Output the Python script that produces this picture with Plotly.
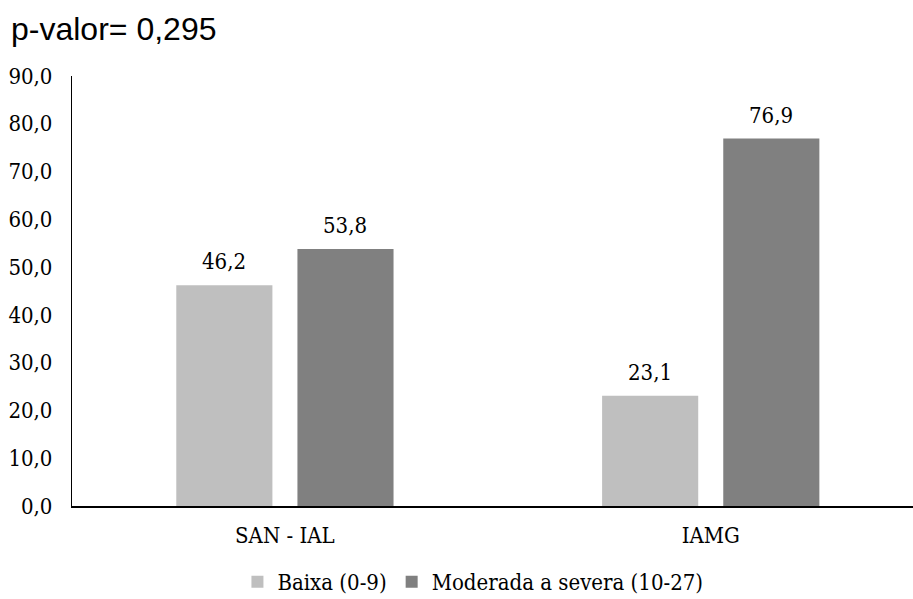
import plotly.graph_objects as go

# Data
categories = ["SAN - IAL", "IAMG"]
baixa = [46.2, 23.1]
moderada = [53.8, 76.9]
series_names = ["Baixa (0-9)", "Moderada a severa (10-27)"]
series_colors = ["#BFBFBF", "#808080"]
y_ticks = [0, 10, 20, 30, 40, 50, 60, 70, 80, 90]
title_text = "p-valor= 0,295"

SERIF = "DejaVu Serif Condensed, DejaVu Serif, serif"
SANS = "Liberation Sans, Arial, sans-serif"
FS = 22

BARGAP = 0.431
GROUPGAP = 0.2066

fig = go.Figure()
for name, vals, col in zip(series_names, [baixa, moderada], series_colors):
    fig.add_trace(go.Bar(
        x=categories, y=vals, name=name,
        marker=dict(color=col, line=dict(width=0)),
    ))

# value labels above each bar (bar centres offset by a quarter of the group width)
half_slot = (1 - BARGAP) / 4
for off, vals in zip([-half_slot, half_slot], [baixa, moderada]):
    for i, v in enumerate(vals):
        fig.add_annotation(
            x=i + off, y=v, xref="x", yref="y",
            text=f"{v:.1f}".replace(".", ","),
            showarrow=False, yanchor="bottom", yshift=9,
            font=dict(family=SERIF, size=FS, color="#000000"),
        )

fig.update_layout(
    width=913, height=599,
    margin=dict(l=72, r=0, t=76, b=93),
    paper_bgcolor="white", plot_bgcolor="white",
    separators=",.",
    barmode="group", bargap=BARGAP, bargroupgap=GROUPGAP,
    title=dict(
        text=title_text, xref="container", yref="container",
        x=11 / 913, xanchor="left", y=1 - 29 / 599, yanchor="middle",
        font=dict(family=SANS, size=32, color="#000000"),
    ),
    showlegend=True,
    legend=dict(
        orientation="h", xref="container", yref="container",
        x=0.518, xanchor="center", y=1 - 582 / 599, yanchor="middle",
        font=dict(family=SERIF, size=FS, color="#000000"),
        itemclick=False, traceorder="normal",
    ),
    xaxis=dict(
        type="category", range=[-0.5, 1.475],
        showline=True, linecolor="#000000", linewidth=2,
        showgrid=False, ticks="", ticklabelstandoff=9,
        tickfont=dict(family=SERIF, size=FS, color="#000000"),
    ),
    yaxis=dict(
        range=[0, 90], tickvals=y_ticks, tickformat=".1f",
        showline=True, linecolor="#000000", linewidth=1.3,
        showgrid=False, zeroline=False, ticks="", ticklabelstandoff=14,
        tickfont=dict(family=SERIF, size=FS, color="#000000"),
    ),
)

fig.write_html("out.html")
